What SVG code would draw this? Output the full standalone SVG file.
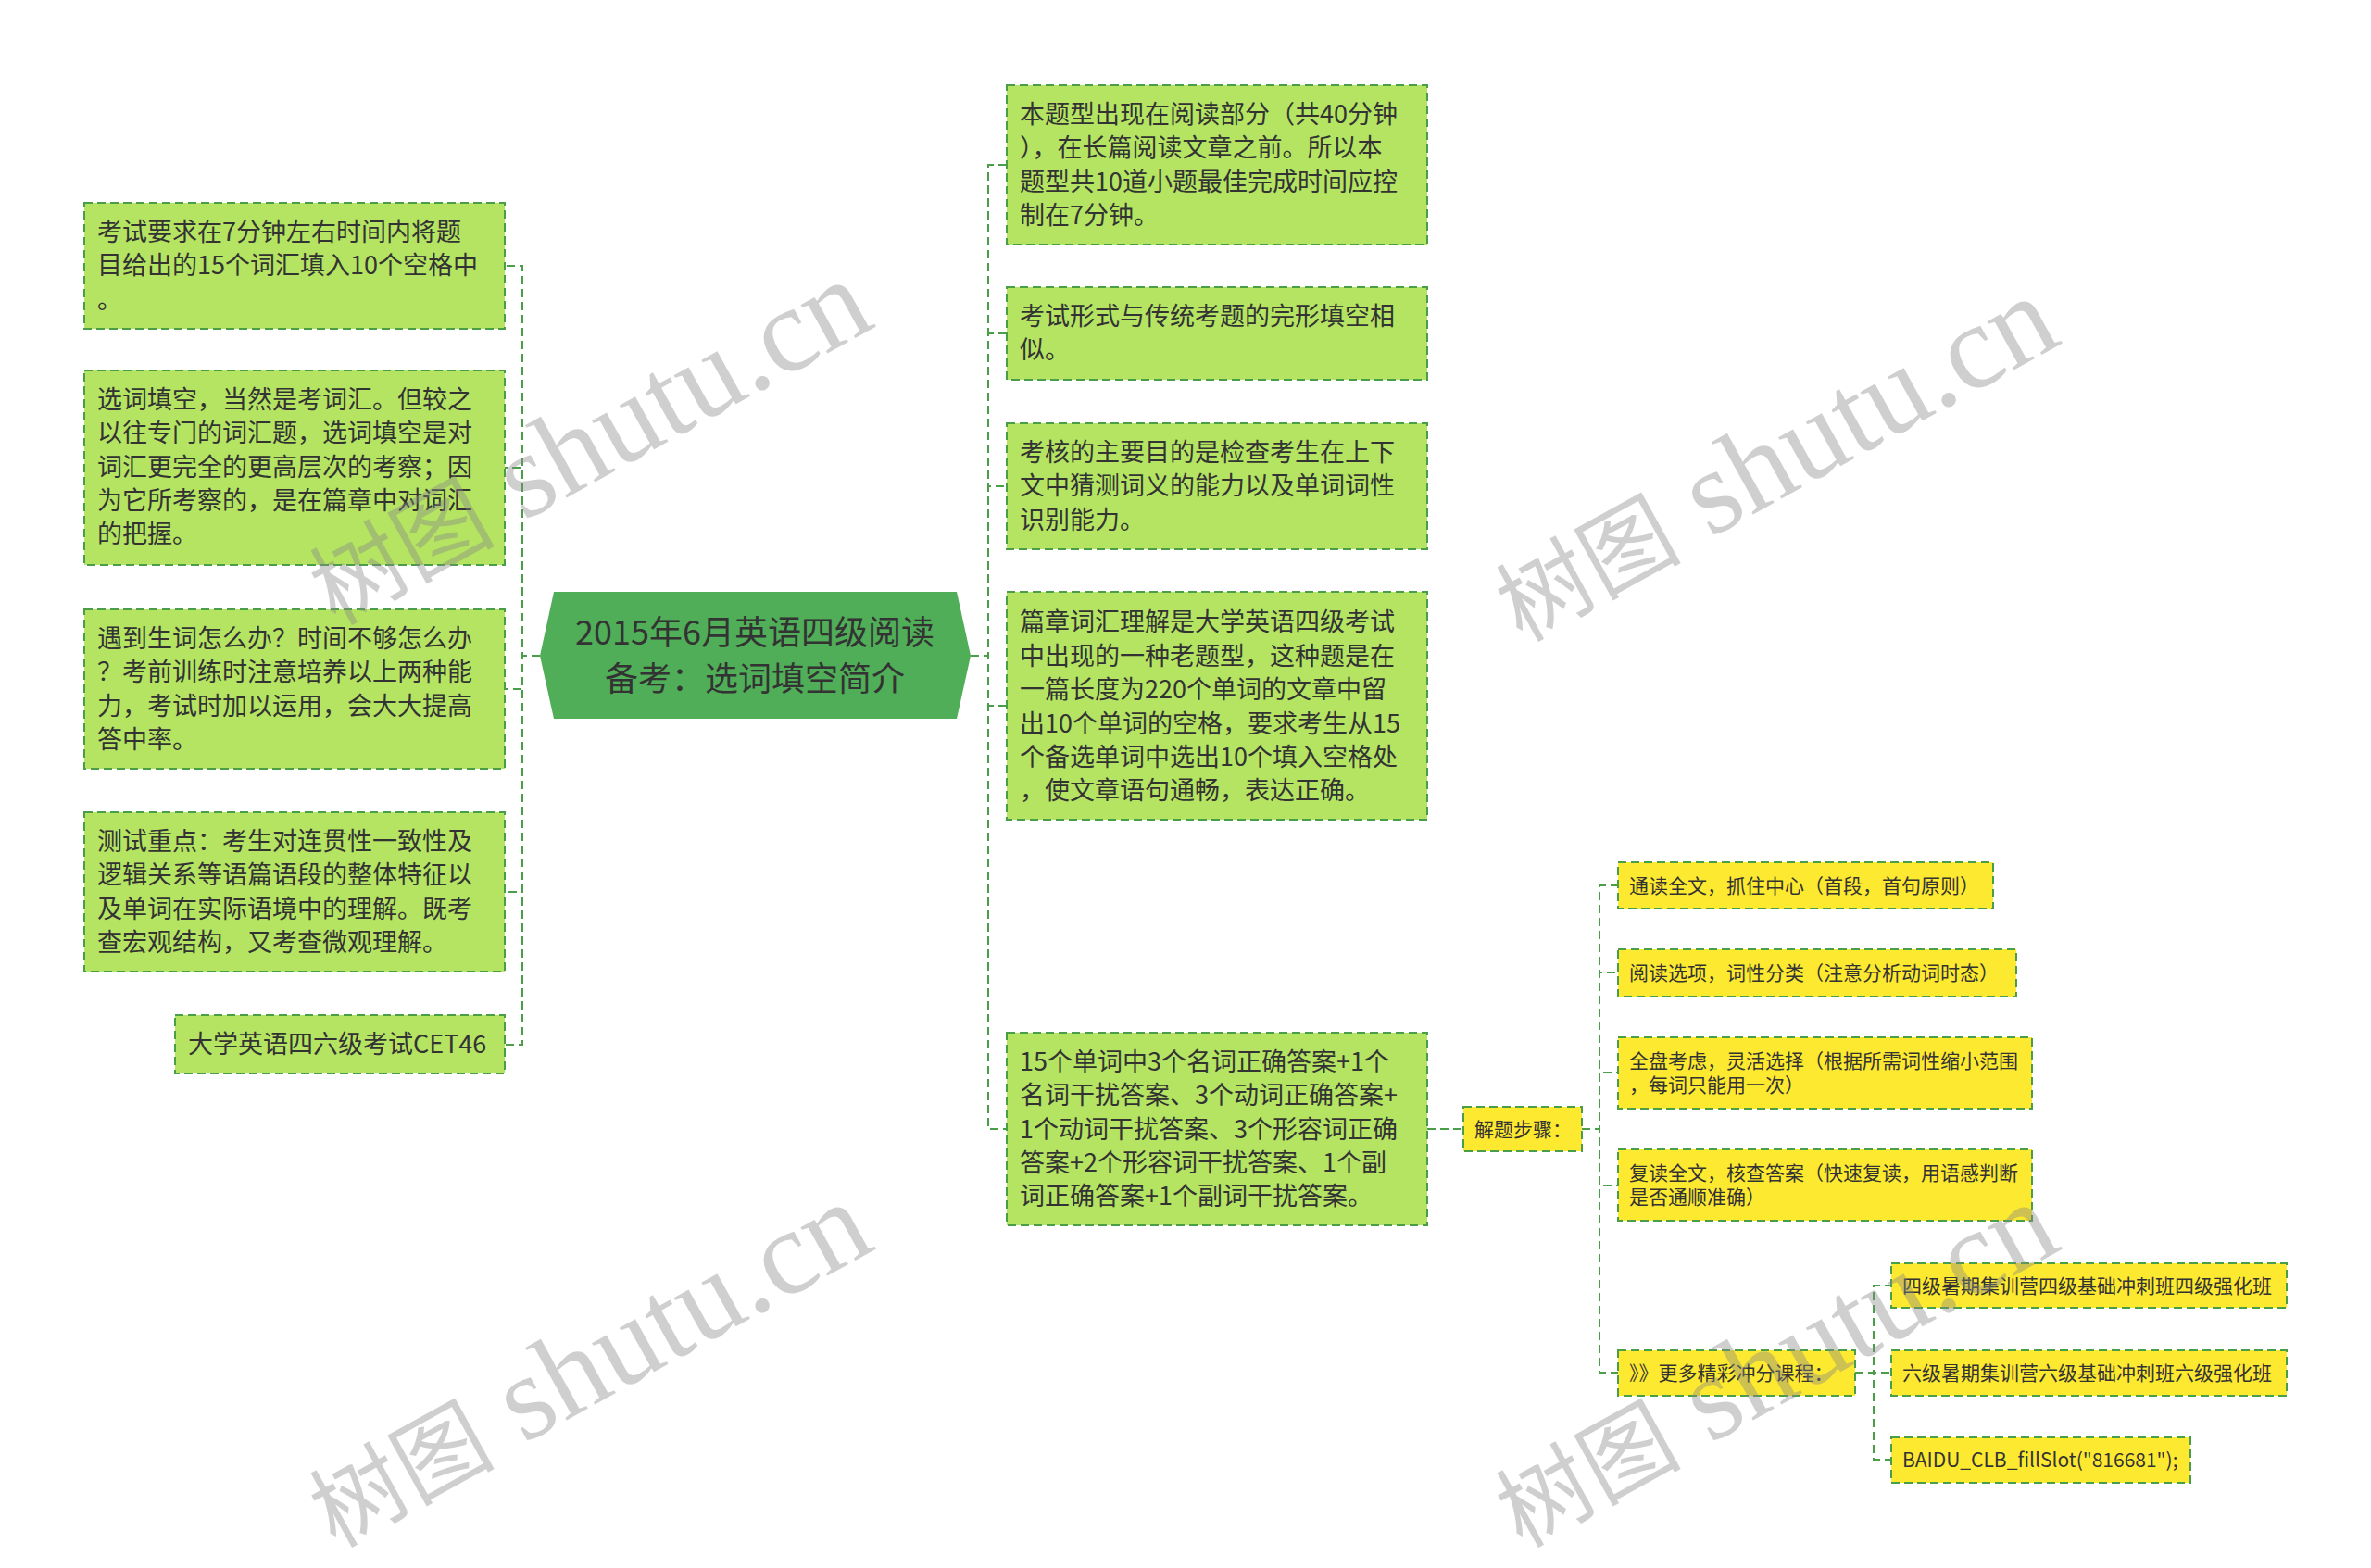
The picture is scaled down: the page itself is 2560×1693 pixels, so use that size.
<svg xmlns="http://www.w3.org/2000/svg" width="2560" height="1693" viewBox="0 0 2560 1693">
<defs>
<style>
.g{fill:#b4e462;stroke:#4a9e4a;stroke-width:2;stroke-dasharray:9 5}
.y{fill:#fde92f;stroke:#4a9e4a;stroke-width:2;stroke-dasharray:9 5}
.t{font-family:"Noto Sans CJK SC","Noto Sans",sans-serif;font-size:27px;fill:#333}
.ts{font-family:"Noto Sans CJK SC","Noto Sans",sans-serif;font-size:21px;fill:#333}
.tc{font-family:"Noto Sans CJK SC","Noto Sans",sans-serif;font-size:36px;fill:#333;text-anchor:middle}
.c{fill:none;stroke:#4a9e4a;stroke-width:2;stroke-dasharray:9 5}
.wm{font-family:"Liberation Serif","Noto Sans CJK SC",serif;font-size:130px;fill:#888;opacity:0.4}
.wc{font-family:"Noto Sans CJK SC",sans-serif;font-size:100px}
</style>
</defs>
<rect width="2560" height="1693" fill="#ffffff"/>
<g id="connectors">
<path class="c" d="M583 708 H564 V287 H545"/>
<path class="c" d="M583 708 H564 V505 H545"/>
<path class="c" d="M583 708 H564 V744 H545"/>
<path class="c" d="M583 708 H564 V963 H545"/>
<path class="c" d="M583 708 H564 V1128 H545"/>
<path class="c" d="M1048 708 H1067 V178 H1087"/>
<path class="c" d="M1048 708 H1067 V360 H1087"/>
<path class="c" d="M1048 708 H1067 V525 H1087"/>
<path class="c" d="M1048 708 H1067 V762 H1087"/>
<path class="c" d="M1048 708 H1067 V1219 H1087"/>
<path class="c" d="M1541 1219 H1580"/>
<path class="c" d="M1708 1219 H1727 V956 H1747"/>
<path class="c" d="M1708 1219 H1727 V1050 H1747"/>
<path class="c" d="M1708 1219 H1727 V1158 H1747"/>
<path class="c" d="M1708 1219 H1727 V1280 H1747"/>
<path class="c" d="M1708 1219 H1727 V1482 H1747"/>
<path class="c" d="M2003 1482 H2023 V1388 H2042"/>
<path class="c" d="M2003 1482 H2023 V1482 H2042"/>
<path class="c" d="M2003 1482 H2023 V1576 H2042"/>
</g>
<g id="center">
<polygon points="583,708 598,639 1033,639 1048,708 1033,776 598,776" fill="#4fae57"/>
<text class="tc" x="815" y="696">2015年6月英语四级阅读</text>
<text class="tc" x="815" y="746">备考：选词填空简介</text>
</g>
<g id="L1">
<rect class="g" x="91" y="219" width="454" height="136"/>
<text class="t"><tspan x="105" y="260">考试要求在7分钟左右时间内将题</tspan><tspan x="105" y="296">目给出的15个词汇填入10个空格中</tspan><tspan x="105" y="333">。</tspan></text>
</g>
<g id="L2">
<rect class="g" x="91" y="400" width="454" height="210"/>
<text class="t"><tspan x="105" y="441">选词填空，当然是考词汇。但较之</tspan><tspan x="105" y="477">以往专门的词汇题，选词填空是对</tspan><tspan x="105" y="514">词汇更完全的更高层次的考察；因</tspan><tspan x="105" y="550">为它所考察的，是在篇章中对词汇</tspan><tspan x="105" y="586">的把握。</tspan></text>
</g>
<g id="L3">
<rect class="g" x="91" y="658" width="454" height="172"/>
<text class="t"><tspan x="105" y="699">遇到生词怎么办？时间不够怎么办</tspan><tspan x="105" y="735">？考前训练时注意培养以上两种能</tspan><tspan x="105" y="772">力，考试时加以运用，会大大提高</tspan><tspan x="105" y="808">答中率。</tspan></text>
</g>
<g id="L4">
<rect class="g" x="91" y="877" width="454" height="172"/>
<text class="t"><tspan x="105" y="918">测试重点：考生对连贯性一致性及</tspan><tspan x="105" y="954">逻辑关系等语篇语段的整体特征以</tspan><tspan x="105" y="991">及单词在实际语境中的理解。既考</tspan><tspan x="105" y="1027">查宏观结构，又考查微观理解。</tspan></text>
</g>
<g id="L5">
<rect class="g" x="189" y="1096" width="356" height="63"/>
<text class="t" x="203" y="1137">大学英语四六级考试CET46</text>
</g>
<g id="R1">
<rect class="g" x="1087" y="92" width="454" height="172"/>
<text class="t"><tspan x="1101" y="133">本题型出现在阅读部分（共40分钟</tspan><tspan x="1101" y="169">），在长篇阅读文章之前。所以本</tspan><tspan x="1101" y="206">题型共10道小题最佳完成时间应控</tspan><tspan x="1101" y="242">制在7分钟。</tspan></text>
</g>
<g id="R2">
<rect class="g" x="1087" y="310" width="454" height="100"/>
<text class="t"><tspan x="1101" y="351">考试形式与传统考题的完形填空相</tspan><tspan x="1101" y="387">似。</tspan></text>
</g>
<g id="R3">
<rect class="g" x="1087" y="457" width="454" height="136"/>
<text class="t"><tspan x="1101" y="498">考核的主要目的是检查考生在上下</tspan><tspan x="1101" y="534">文中猜测词义的能力以及单词词性</tspan><tspan x="1101" y="571">识别能力。</tspan></text>
</g>
<g id="R4">
<rect class="g" x="1087" y="639" width="454" height="246"/>
<text class="t"><tspan x="1101" y="681">篇章词汇理解是大学英语四级考试</tspan><tspan x="1101" y="718">中出现的一种老题型，这种题是在</tspan><tspan x="1101" y="754">一篇长度为220个单词的文章中留</tspan><tspan x="1101" y="791">出10个单词的空格，要求考生从15</tspan><tspan x="1101" y="827">个备选单词中选出10个填入空格处</tspan><tspan x="1101" y="863">，使文章语句通畅，表达正确。</tspan></text>
</g>
<g id="R5">
<rect class="g" x="1087" y="1115" width="454" height="208"/>
<text class="t"><tspan x="1101" y="1156">15个单词中3个名词正确答案+1个</tspan><tspan x="1101" y="1192">名词干扰答案、3个动词正确答案+</tspan><tspan x="1101" y="1229">1个动词干扰答案、3个形容词正确</tspan><tspan x="1101" y="1265">答案+2个形容词干扰答案、1个副</tspan><tspan x="1101" y="1301">词正确答案+1个副词干扰答案。</tspan></text>
</g>
<g id="steps">
<rect class="y" x="1580" y="1195" width="128" height="48"/>
<text class="ts" x="1592" y="1227">解题步骤：</text>
</g>
<g id="S1">
<rect class="y" x="1747" y="931" width="405" height="50"/>
<text class="ts" x="1759" y="964">通读全文，抓住中心（首段，首句原则）</text>
</g>
<g id="S2">
<rect class="y" x="1747" y="1025" width="430" height="51"/>
<text class="ts" x="1759" y="1058">阅读选项，词性分类（注意分析动词时态）</text>
</g>
<g id="S3">
<rect class="y" x="1747" y="1120" width="447" height="77"/>
<text class="ts"><tspan x="1759" y="1153">全盘考虑，灵活选择（根据所需词性缩小范围</tspan><tspan x="1759" y="1179">，每词只能用一次）</tspan></text>
</g>
<g id="S4">
<rect class="y" x="1747" y="1241" width="447" height="77"/>
<text class="ts"><tspan x="1759" y="1274">复读全文，核查答案（快速复读，用语感判断</tspan><tspan x="1759" y="1300">是否通顺准确）</tspan></text>
</g>
<g id="S5">
<rect class="y" x="1747" y="1458" width="256" height="49"/>
<text class="ts" x="1759" y="1490">》》更多精彩冲分课程：</text>
</g>
<g id="T1">
<rect class="y" x="2042" y="1364" width="427" height="48"/>
<text class="ts" x="2054" y="1396">四级暑期集训营四级基础冲刺班四级强化班</text>
</g>
<g id="T2">
<rect class="y" x="2042" y="1458" width="427" height="49"/>
<text class="ts" x="2054" y="1490">六级暑期集训营六级基础冲刺班六级强化班</text>
</g>
<g id="T3">
<rect class="y" x="2042" y="1552" width="323" height="49"/>
<text class="ts" x="2054" y="1584">BAIDU_CLB_fillSlot("816681");</text>
</g>
<g id="watermarks">
<text class="wm" transform="translate(362,676) rotate(-29)"><tspan class="wc">树图</tspan> shutu.cn</text>
<text class="wm" transform="translate(1643,694) rotate(-29)"><tspan class="wc">树图</tspan> shutu.cn</text>
<text class="wm" transform="translate(362,1672) rotate(-29)"><tspan class="wc">树图</tspan> shutu.cn</text>
<text class="wm" transform="translate(1643,1672) rotate(-29)"><tspan class="wc">树图</tspan> shutu.cn</text>
</g>
</svg>
